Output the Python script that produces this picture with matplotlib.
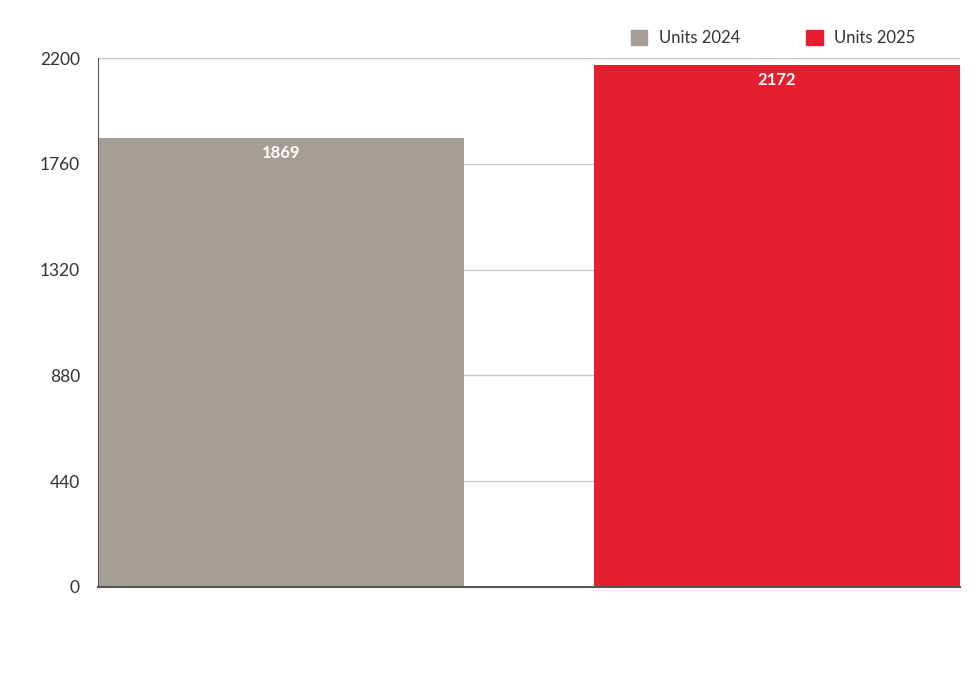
import matplotlib.pyplot as plt
from matplotlib.patches import Patch

plt.rcParams['font.family'] = ['Lato', 'DejaVu Sans']

# data
categories = ["Units 2024", "Units 2025"]
units = [1869, 2172]
colors = ["#a59e96", "#e51f30"]
y_ticks = [0, 440, 880, 1320, 1760, 2200]

fig = plt.figure(figsize=(9.8, 6.8), dpi=100)
ax = fig.add_axes([0.1, 0.1368, 0.8796, 0.7779])

x = list(range(len(categories)))
bars = ax.bar(x, units, width=0.738, color=colors, zorder=2)

for b, v in zip(bars, units):
    ax.annotate(str(v), (b.get_x() + b.get_width() / 2, v), xytext=(0, -11),
                textcoords="offset points", ha="center", va="center",
                color="white", fontsize=12, fontweight="bold", zorder=3)

ax.set_xlim(-0.369, 1.369)
ax.set_ylim(0, 2200)
ax.set_yticks(y_ticks)
ax.set_yticklabels([str(t) for t in y_ticks])
ax.set_xticks([])
ax.tick_params(axis="y", length=0, pad=13, labelsize=12.5, labelcolor="#333333")

ax.grid(axis="y", color="#c8c8c8", linewidth=1, zorder=1)
ax.spines["top"].set_visible(False)
ax.spines["right"].set_visible(False)
ax.spines["left"].set_color("#555555")
ax.spines["bottom"].set_color("#555555")
ax.spines["bottom"].set_linewidth(1.5)

handles = [Patch(color=c, label=l) for c, l in zip(colors, categories)]
ax.legend(handles=handles, loc="lower right", bbox_to_anchor=(0.962, 1.0),
          ncol=2, frameon=False, fontsize=12, handlelength=1.0, handleheight=1.0,
          columnspacing=3.95, handletextpad=0.7, borderaxespad=0.3,
          labelcolor="#333333")

plt.savefig("out.png")
